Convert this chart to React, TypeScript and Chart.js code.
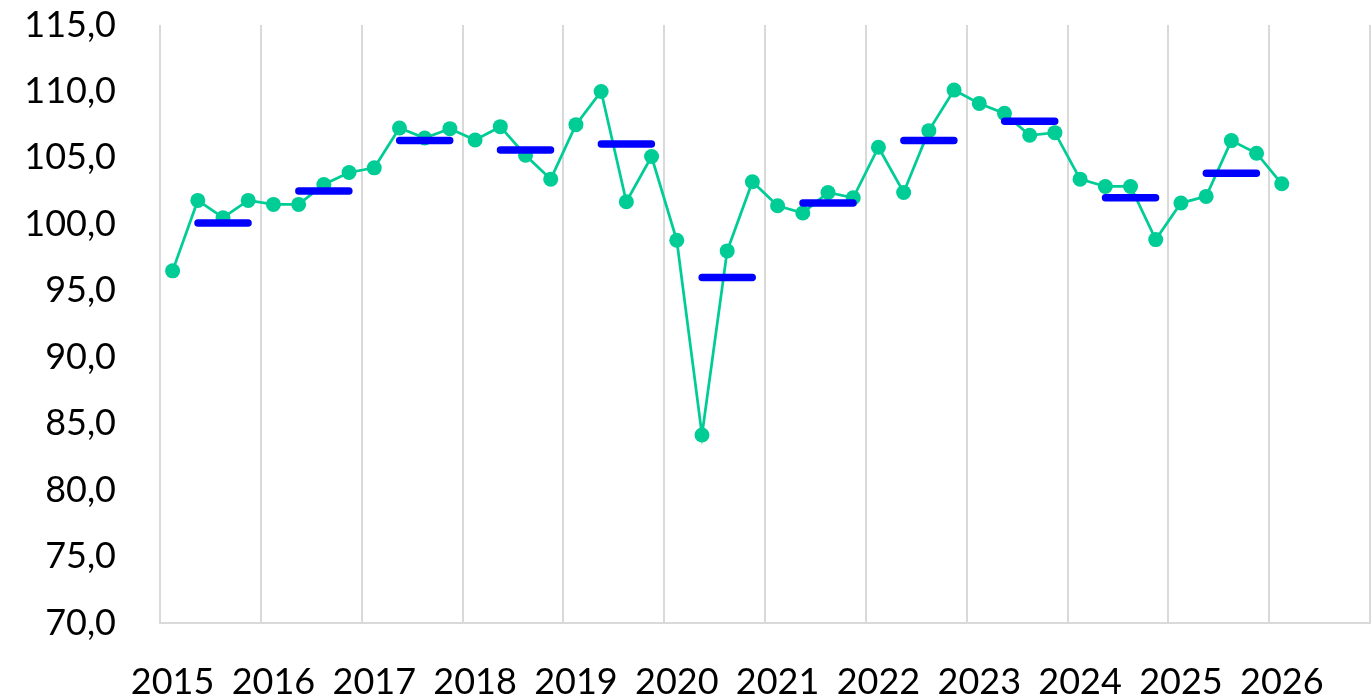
import React, { useEffect, useRef } from "react";
import { Chart, registerables } from "chart.js";

Chart.register(...registerables);

const years = ["2015", "2016", "2017", "2018", "2019", "2020", "2021", "2022", "2023", "2024", "2025", "2026"];

// Quarterly index values, 2015Q1 .. 2026Q1
const quarterlyValues: number[] = [
  96.5, 101.8, 100.5, 101.8,
  101.5, 101.5, 103.0, 103.9,
  104.25, 107.25, 106.5, 107.2,
  106.35, 107.35, 105.2, 103.4,
  107.5, 110.0, 101.7, 105.1,
  98.8, 84.15, 98.0, 103.2,
  101.4, 100.85, 102.4, 102.0,
  105.8, 102.4, 107.05, 110.1,
  109.1, 108.35, 106.7, 106.9,
  103.4, 102.85, 102.85, 98.85,
  101.6, 102.1, 106.3, 105.35,
  103.05,
];

// Annual averages 2015 .. 2025
const annualAverages: number[] = [100.1, 102.5, 106.3, 105.6, 106.05, 96.0, 101.6, 106.3, 107.75, 102.0, 103.85];

const yTicksMin = 70;
const yTicksMax = 115;
const yTicksStep = 5;

const GREEN = "#00CC96";
const BLUE = "#0000FF";
const GRID = "#D9D9D9";
const FONT = "Lato";
const CLEAR = "rgba(0,0,0,0)";

export default function App() {
  const canvasRef = useRef<HTMLCanvasElement | null>(null);

  useEffect(() => {
    document.body.style.margin = "0";
    const canvas = canvasRef.current;
    if (!canvas) return;

    const labels: string[] = [];
    years.forEach((y) => {
      for (let q = 1; q <= 4; q++) labels.push(`${y} Q${q}`);
    });
    const quarterData: (number | null)[] = labels.map((_, i) =>
      i < quarterlyValues.length ? quarterlyValues[i] : null
    );
    const annualData: (number | null)[] = labels.map((_, i) => {
      const yr = Math.floor(i / 4);
      return i % 4 === 2 && yr < annualAverages.length ? annualAverages[yr] : null;
    });

    const roundCap = {
      id: "roundCap",
      beforeDatasetDraw(chart: any, args: any) {
        if (args.index === 0) {
          chart.ctx.save();
          chart.ctx.lineCap = "round";
        }
      },
      afterDatasetDraw(chart: any, args: any) {
        if (args.index === 0) chart.ctx.restore();
      },
    };

    const chart = new Chart(canvas, {
      type: "line",
      data: {
        labels,
        datasets: [
          {
            label: "Annual average",
            data: annualData,
            showLine: false,
            pointStyle: "line",
            pointRadius: 25,
            pointHoverRadius: 25,
            pointBorderWidth: 7.5,
            pointHoverBorderWidth: 7.5,
            borderColor: BLUE,
            backgroundColor: BLUE,
            order: 0,
          },
          {
            label: "Quarterly",
            data: quarterData,
            borderColor: GREEN,
            backgroundColor: GREEN,
            borderWidth: 2.75,
            pointRadius: 7.5,
            pointHoverRadius: 7.5,
            pointBorderWidth: 0,
            pointBackgroundColor: GREEN,
            tension: 0,
            order: 1,
          },
        ],
      },
      plugins: [roundCap],
      options: {
        responsive: false,
        animation: false,
        events: [],
        layout: { autoPadding: false, padding: { top: 25, right: 2, left: 0, bottom: 0 } },
        plugins: {
          legend: { display: false },
          tooltip: { enabled: false },
        },
        scales: {
          x: {
            type: "category",
            offset: true,
            afterFit: (s: any) => {
              s.height = 77;
              s.paddingLeft = 0;
              s.paddingRight = 0;
            },
            grid: {
              offset: true,
              drawTicks: true,
              tickLength: 38,
              tickColor: CLEAR,
              lineWidth: 2,
              color: (ctx: any) =>
                ctx.type !== "tick" || ctx.index % 4 === 0 ? GRID : CLEAR,
            },
            border: { display: true, color: GRID, width: 2 },
            ticks: {
              autoSkip: false,
              maxRotation: 0,
              minRotation: 0,
              padding: 0,
              color: "#000",
              font: { family: FONT, size: 36 },
              callback: (_v: any, i: number) => (i % 4 === 0 ? years[i / 4] : ""),
            },
          },
          y: {
            min: yTicksMin,
            max: yTicksMax,
            afterFit: (s: any) => {
              s.width = 160;
              s.paddingTop = 0;
              s.paddingBottom = 0;
            },
            grid: {
              display: true,
              drawOnChartArea: false,
              drawTicks: true,
              tickLength: 44,
              color: CLEAR,
              tickColor: CLEAR,
            },
            border: { display: false },
            ticks: {
              stepSize: yTicksStep,
              padding: 0,
              color: "#000",
              font: { family: FONT, size: 36 },
              callback: (v: any) => Number(v).toFixed(1).replace(".", ","),
            },
          },
        },
      },
    });

    return () => chart.destroy();
  }, []);

  return (
    <div style={{ width: 1372, height: 700 }}>
      <canvas ref={canvasRef} width={1372} height={700} />
    </div>
  );
}
